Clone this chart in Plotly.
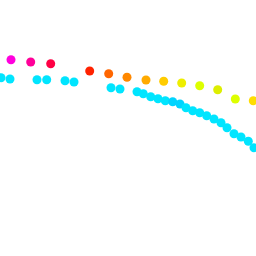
import plotly.graph_objects as go

# Upper series (warm colours)
warm_x = [11, 30.7, 50.7, 89.7, 108.7, 127, 146, 163.7, 181.7, 199.7, 217.7, 235.3, 253.3]
warm_y = [196.3, 194, 192.3, 185, 182.3, 178.7, 176, 174.7, 173, 170.3, 166.3, 157, 155.3]
warm_colors = ["#ff00dd", "#ff0099", "#ff0044", "#ff2200", "#ff6600", "#ff8800", "#ffaa00",
               "#ffcc00", "#eeee00", "#ddff00", "#ddee00", "#ddff00", "#ffdd00"]

# Lower series (cyan)
cyan_x = [1, 10, 37, 46.7, 65, 74, 111, 120, 137, 143.3, 150.7, 158, 165.3, 172.7, 180, 186,
          192.7, 199.7, 206.7, 214, 221, 227, 234, 241, 248.3, 254]
cyan_y = [178.3, 177, 176.3, 176.3, 175.3, 174, 168.3, 167, 164.3, 162.3, 159.3, 157.3, 155.3,
          154.3, 152, 148.3, 145.3, 143.3, 140.3, 137, 133.3, 128.3, 122.3, 119, 114.7, 108.3]
cyan_colors = ["#00e5ff"] * 13 + ["#00d4ff", "#00d4ff"] + ["#00e5ff"] * 11

fig = go.Figure()
fig.add_trace(go.Scatter(x=warm_x, y=warm_y, mode="markers",
                         marker=dict(size=9, color=warm_colors, line=dict(width=0)),
                         showlegend=False, hoverinfo="skip"))
fig.add_trace(go.Scatter(x=cyan_x, y=cyan_y, mode="markers",
                         marker=dict(size=9, color=cyan_colors, line=dict(width=0)),
                         showlegend=False, hoverinfo="skip"))

fig.update_layout(
    width=256, height=256,
    margin=dict(l=0, r=0, t=0, b=0),
    paper_bgcolor="white", plot_bgcolor="white",
    xaxis=dict(range=[0, 256], visible=False, fixedrange=True),
    yaxis=dict(range=[0, 256], visible=False, fixedrange=True),
)
fig.write_html("out.html")
